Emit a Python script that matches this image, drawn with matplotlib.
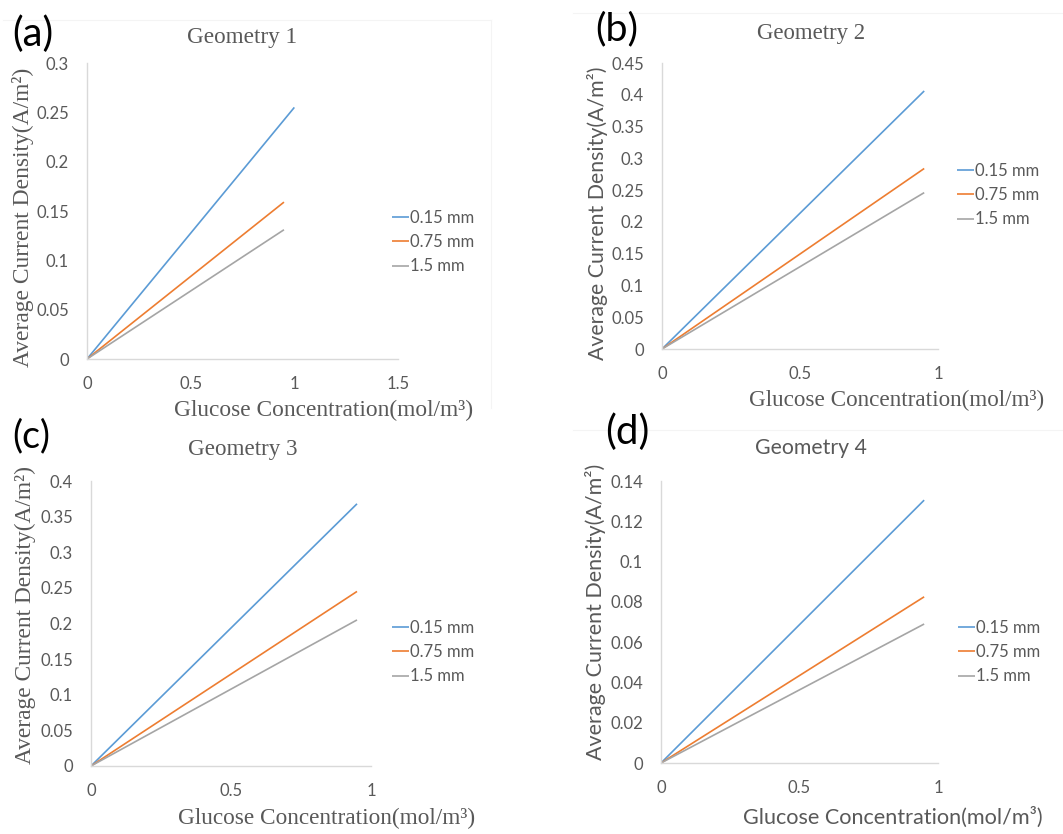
import matplotlib
matplotlib.use("Agg")
import matplotlib.pyplot as plt
from matplotlib.ticker import FixedLocator, FuncFormatter
from matplotlib.lines import Line2D

W, H = 1063, 834

# ---------------- data ----------------
series_labels = ["0.15 mm", "0.75 mm", "1.5 mm"]
series_colors = ["#5B9BD5", "#ED7D31", "#A5A5A5"]

g1_conc_015 = [0, 1.0]
g1_conc = [0, 0.95]
g1_015 = [0, 0.255]
g1_075 = [0, 0.159]
g1_15 = [0, 0.131]

g2_conc = [0, 0.95]
g2_015 = [0, 0.406]
g2_075 = [0, 0.284]
g2_15 = [0, 0.246]

g3_conc = [0, 0.95]
g3_015 = [0, 0.368]
g3_075 = [0, 0.245]
g3_15 = [0, 0.205]

g4_conc = [0, 0.95]
g4_015 = [0, 0.1305]
g4_075 = [0, 0.0825]
g4_15 = [0, 0.069]

titles = ["Geometry 1", "Geometry 2", "Geometry 3", "Geometry 4"]
panel_tags = ["(a)", "(b)", "(c)", "(d)"]
xticks_list = [[0, 0.5, 1, 1.5], [0, 0.5, 1], [0, 0.5, 1], [0, 0.5, 1]]
yticks_list = [
    [0, 0.05, 0.1, 0.15, 0.2, 0.25, 0.3],
    [0, 0.05, 0.1, 0.15, 0.2, 0.25, 0.3, 0.35, 0.4, 0.45],
    [0, 0.05, 0.1, 0.15, 0.2, 0.25, 0.3, 0.35, 0.4],
    [0, 0.02, 0.04, 0.06, 0.08, 0.1, 0.12, 0.14],
]
xlabel = "Glucose Concentration(mol/m³)"
ylabel = "Average Current Density(A/m²)"

panels = [
    dict(xs=[g1_conc_015, g1_conc, g1_conc], ys=[g1_015, g1_075, g1_15]),
    dict(xs=[g2_conc] * 3, ys=[g2_015, g2_075, g2_15]),
    dict(xs=[g3_conc] * 3, ys=[g3_015, g3_075, g3_15]),
    dict(xs=[g4_conc] * 3, ys=[g4_015, g4_075, g4_15]),
]

# ---------------- layout (pixels) ----------------
boxes = [(87, 398, 63, 359), (662, 938, 63, 349), (91, 371, 481, 766), (661, 938, 481, 763)]
title_pos = [(242, 37), (811, 33), (243, 449), (811, 448)]
title_w = [110, 108, 109, 112]
xlab_pos = [(324, 410), (897, 400), (327, 818), (893, 817)]
xlab_w = [298, 295, 297, 300]
ylab_pos = [(23, 217), (598, 213), (25, 615), (595, 612)]
ylab_h = [300, 295, 298, 297]
legend_anchor = [(392, 242), (957, 195), (392, 652), (958, 652)]
tag_pos = [(12, 34), (595, 29), (12, 436), (605, 432)]
tag_w = [41, 43, 38, 44]

serif = "Liberation Serif"
sans = "Lato"
title_font = [serif, serif, serif, sans]
xlab_font = [serif, serif, serif, sans]
ylab_font = [serif, sans, serif, sans]
TXT = "#595959"
FRAME = "#F4F4F4"

fig = plt.figure(figsize=(W / 100, H / 100), dpi=100)
fig.patch.set_facecolor("white")


def fx(px):
    return px / W


def fy(py):
    return 1 - py / H


# faint chart-area frames from the original spreadsheet charts
for (x0, y0, x1, y1) in [(3, 20, 491, 20), (491, 20, 491, 408), (573, 13, 1063, 13), (573, 430, 1063, 430)]:
    fig.add_artist(Line2D([fx(x0), fx(x1)], [fy(y0), fy(y1)], transform=fig.transFigure,
                          color=FRAME, lw=0.8))

fmt = FuncFormatter(lambda v, p: f"{v:g}")
fit_items = []

for i, p in enumerate(panels):
    l, r, t, b = boxes[i]
    ax = fig.add_axes([fx(l), fy(b), (r - l) / W, (b - t) / H])
    for k in range(3):
        ax.plot(p["xs"][k], p["ys"][k], color=series_colors[k], lw=1.2,
                label=series_labels[k], solid_capstyle="butt")
    xt, yt = xticks_list[i], yticks_list[i]
    ax.set_xlim(xt[0], xt[-1])
    ax.set_ylim(yt[0], yt[-1])
    ax.xaxis.set_major_locator(FixedLocator(xt))
    ax.yaxis.set_major_locator(FixedLocator(yt))
    ax.xaxis.set_major_formatter(fmt)
    ax.yaxis.set_major_formatter(fmt)
    for s in ["top", "right"]:
        ax.spines[s].set_visible(False)
    for s in ["left", "bottom"]:
        ax.spines[s].set_color("#D9D9D9")
        ax.spines[s].set_linewidth(1.0)
    ax.tick_params(length=0, labelsize=12, labelcolor=TXT)
    ax.tick_params(axis="x", pad=12)
    ax.tick_params(axis="y", pad=13)
    for lab in ax.get_xticklabels() + ax.get_yticklabels():
        lab.set_fontfamily(sans)
    ax.set_facecolor("none")

    leg = ax.legend(loc="center left", bbox_to_anchor=(fx(legend_anchor[i][0]), fy(legend_anchor[i][1])),
                    bbox_transform=fig.transFigure, frameon=False, borderpad=0, borderaxespad=0,
                    handlelength=1.0, handletextpad=0.1, labelspacing=0.5,
                    prop=dict(family=sans, size=12))
    for txt in leg.get_texts():
        txt.set_color(TXT)

    tt = fig.text(fx(title_pos[i][0]), fy(title_pos[i][1]), titles[i], ha="center", va="center",
                  color=TXT, family=title_font[i], fontsize=16)
    fit_items.append((tt, title_w[i], "w"))
    xl = fig.text(fx(xlab_pos[i][0]), fy(xlab_pos[i][1]), xlabel, ha="center", va="center",
                  color=TXT, family=xlab_font[i], fontsize=16)
    fit_items.append((xl, xlab_w[i], "w"))
    yl = fig.text(fx(ylab_pos[i][0]), fy(ylab_pos[i][1]), ylabel, ha="center", va="center",
                  rotation=90, color=TXT, family=ylab_font[i], fontsize=16)
    fit_items.append((yl, ylab_h[i], "h"))
    tg = fig.text(fx(tag_pos[i][0]), fy(tag_pos[i][1]), panel_tags[i], ha="left", va="center",
                  color="black", family=sans, fontsize=26)
    fit_items.append((tg, tag_w[i], "w"))

fig.canvas.draw()
rend = fig.canvas.get_renderer()
for t, target, mode in fit_items:
    bb = t.get_window_extent(rend)
    cur = bb.width if mode == "w" else bb.height
    t.set_fontsize(t.get_fontsize() * target / cur)

fig.savefig("out.png", dpi=100, facecolor="white")
